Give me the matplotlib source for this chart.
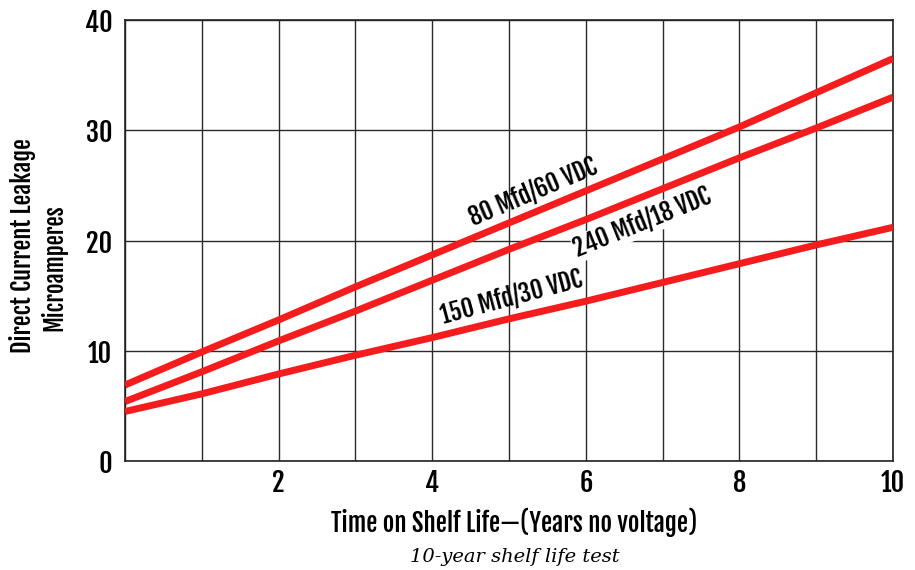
import numpy as np
import matplotlib.pyplot as plt
from matplotlib.ticker import MultipleLocator

# years on the shelf, and leakage current (microamperes) for each capacitor
years = [0, 1, 2, 3, 4, 5, 6, 7, 8, 9, 10]
leak_80 = [6.9, 9.9, 12.8, 15.8, 18.7, 21.6, 24.5, 27.4, 30.3, 33.4, 36.5]
leak_240 = [5.4, 8.1, 10.9, 13.6, 16.4, 19.2, 21.9, 24.7, 27.5, 30.2, 33.0]
leak_150 = [4.5, 6.1, 7.9, 9.6, 11.2, 12.9, 14.5, 16.2, 17.9, 19.6, 21.2]

labels = ["80 Mfd/60 VDC", "240 Mfd/18 VDC", "150 Mfd/30 VDC"]
x_ticks = [2, 4, 6, 8, 10]
y_ticks = [0, 10, 20, 30, 40]

cond = ["Fjalla One", "DejaVu Sans"]
red = "#f41c1c"

fig = plt.figure(figsize=(9.15, 5.7), dpi=100)
ax = fig.add_axes([0.1366, 0.191, 0.8394, 0.774])

for y in (leak_80, leak_240, leak_150):
    ax.plot(years, y, color=red, lw=5.0, solid_capstyle="butt", zorder=3)

ax.set_xlim(0, 10)
ax.set_ylim(0, 40)
ax.xaxis.set_minor_locator(MultipleLocator(1))
ax.set_xticks(x_ticks)
ax.set_yticks(y_ticks)
ax.grid(True, which="both", color="#2a2a2a", lw=1.0, zorder=1)
ax.tick_params(which="both", length=0)
ax.tick_params(axis="x", pad=5)
ax.tick_params(axis="y", pad=9)
for t in ax.get_xticklabels() + ax.get_yticklabels():
    t.set_family(cond)
    t.set_fontsize(19)
for s in ax.spines.values():
    s.set_color("#222222")
    s.set_linewidth(1.2)

# curve labels, tilted along the lines
ax.text(5.31, 24.4, labels[0], rotation=23, ha="center", va="center",
        family=cond, fontsize=17.5, zorder=4)
ax.text(6.74, 21.6, labels[1], rotation=22, ha="center", va="center",
        family=cond, fontsize=17.5, zorder=4,
        bbox=dict(facecolor="white", edgecolor="none", pad=0.5))
ax.text(5.03, 14.8, labels[2], rotation=15, ha="center", va="center",
        family=cond, fontsize=17.5, zorder=4)

fig.text(0.025, 0.569, "Direct Current Leakage", rotation=90, ha="center",
         va="center", family=cond, fontsize=17.5)
fig.text(0.059, 0.531, "Microamperes", rotation=90, ha="center",
         va="center", family=cond, fontsize=16.5)
fig.text(0.562, 0.083, "Time on Shelf Life\u2014(Years no voltage)", ha="center",
         va="center", family=cond, fontsize=18)
fig.text(0.563, 0.022, "10-year shelf life test", ha="center", va="center",
         family="DejaVu Serif", style="italic", fontsize=14)

fig.savefig("out.png", dpi=100)
